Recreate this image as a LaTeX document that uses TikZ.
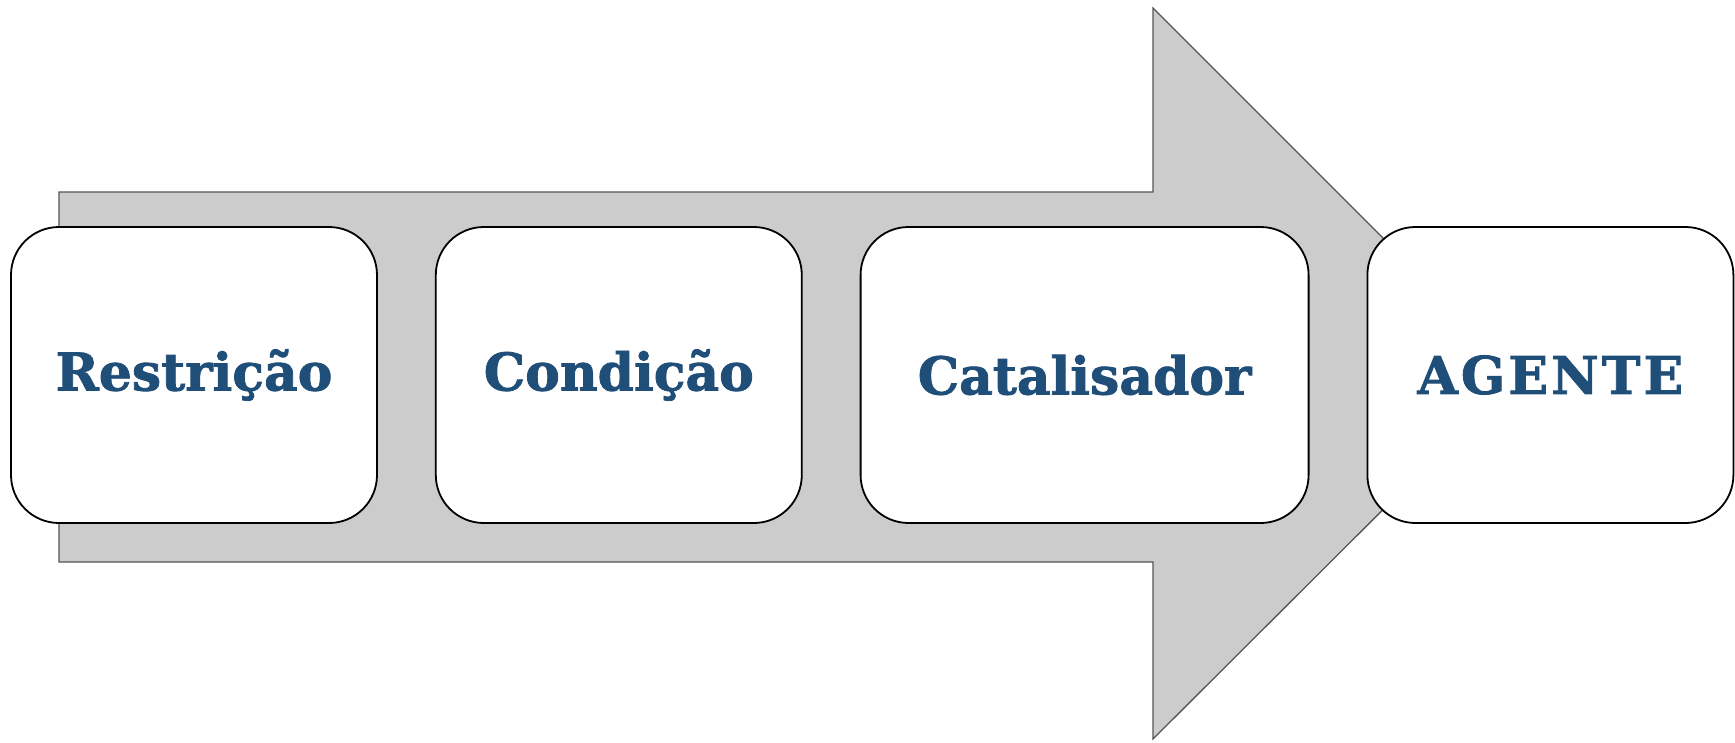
\documentclass[tikz,border=0pt]{standalone}
\usepackage{fontspec}
\setmainfont{DejaVu Serif}[BoldFont={DejaVu Serif Bold}, BoldFeatures={FakeBold=1.5}]
\usepackage{xcolor}
\usetikzlibrary{positioning}

\definecolor{azul}{RGB}{31,78,121}
\definecolor{cinza}{RGB}{204,204,204}
\definecolor{borda}{RGB}{85,85,85}

\begin{document}
\begin{tikzpicture}[
		x=1pt, y=-1pt,
		font=\fontsize{52}{58}\selectfont\bfseries,
		etapa/.style={draw=black, line width=1.8pt, fill=white,
			rounded corners=48pt, align=center, text=azul,
			minimum width=366pt, minimum height=296pt, inner sep=0pt},
		seta/.style={draw=borda, fill=cinza, line width=1.3pt},
		]
		\useasboundingbox (0,0) rectangle (1735,742);
		
		% seta grande ao fundo
		\draw[seta] (59,192) -- (1153,192) -- (1153,8) -- (1519,374)
			-- (1153,739) -- (1153,562) -- (59,562) -- cycle;
		
		\node[etapa] (restricao) at (194,375) {Restrição};
		\node[etapa, right=57pt of restricao] (condicao) {Condição};
		\node[etapa, right=57pt of condicao, minimum width=448pt] (catalisador) {Catalisador};
		\node[etapa, right=57pt of catalisador] (agente) {\addfontfeature{LetterSpace=6}AGENTE};
		
	\end{tikzpicture}
\end{document}
